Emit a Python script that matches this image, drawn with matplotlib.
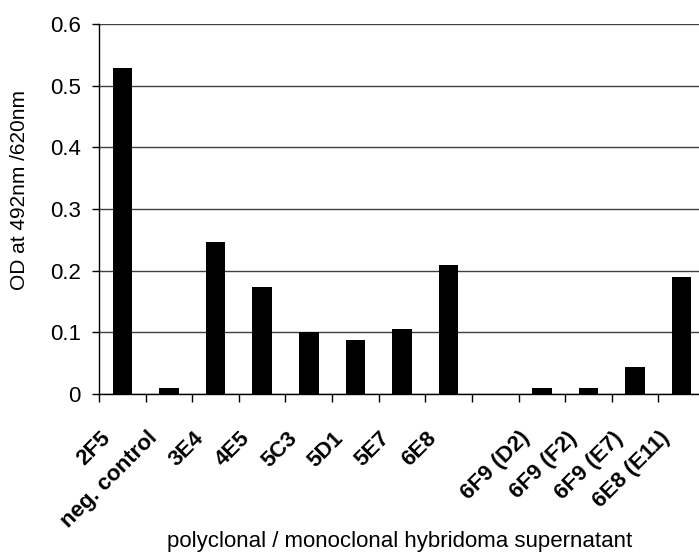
import matplotlib
matplotlib.use("Agg")
import matplotlib.pyplot as plt
import matplotlib.transforms as mtransforms
import numpy as np

samples = [
    "2F5", "neg. control", "3E4", "4E5", "5C3", "5D1", "5E7", "6E8", "",
    "6F9 (D2)", "6F9 (F2)", "6F9 (E7)", "6E8 (E11)",
]
od_values = [0.529, 0.009, 0.246, 0.173, 0.100, 0.088, 0.105, 0.209, 0.0,
             0.009, 0.009, 0.043, 0.189]
y_ticks = [0, 0.1, 0.2, 0.3, 0.4, 0.5, 0.6]
y_tick_labels = ["0", "0.1", "0.2", "0.3", "0.4", "0.5", "0.6"]

plt.rcParams["font.family"] = ["Liberation Sans", "DejaVu Sans"]

W, H = 699, 554
fig = plt.figure(figsize=(W / 100, H / 100), dpi=100)
# plot area runs a little past the right edge, as in the original
ax = fig.add_axes([99 / W, 1 - 394 / H, 606 / W, 370 / H])

x = np.arange(len(samples))
ax.bar(x, od_values, width=0.42, color="black", zorder=3)

ax.set_xlim(-0.5, len(samples) - 0.5)
ax.set_ylim(0, 0.6)
ax.set_yticks(y_ticks)
ax.set_yticklabels(y_tick_labels, fontsize=16)
ax.tick_params(axis="y", direction="out", length=5, width=1, pad=8, colors="black")
ax.yaxis.grid(True, color="#404040", linewidth=1)
ax.set_axisbelow(True)

for side in ["top", "right"]:
    ax.spines[side].set_visible(False)
for side in ["left", "bottom"]:
    ax.spines[side].set_color("black")
    ax.spines[side].set_linewidth(1)

# category labels at bar centres, tick marks between categories
ax.set_xticks(x)
ax.set_xticklabels(samples, fontsize=16, fontweight="bold")
ax.tick_params(axis="x", which="major", length=0, pad=0)
ax.set_xticks(np.arange(len(samples) + 1) - 0.5, minor=True)
ax.tick_params(axis="x", which="minor", direction="out", length=6, width=1)

offset = mtransforms.ScaledTranslation(-15 / 100, -41 / 100, fig.dpi_scale_trans)
for lbl in ax.get_xticklabels():
    lbl.set_rotation(45)
    lbl.set_ha("right")
    lbl.set_va("center")
    lbl.set_rotation_mode("anchor")
    lbl.set_transform(lbl.get_transform() + offset)

fig.text(20 / W, 1 - 190 / H, "OD at 492nm /620nm", rotation=90,
         ha="center", va="center", fontsize=15)
fig.text(400 / W, 1 - 541 / H, "polyclonal / monoclonal hybridoma supernatant",
         ha="center", va="center", fontsize=16)

fig.savefig("out.png", dpi=100)
